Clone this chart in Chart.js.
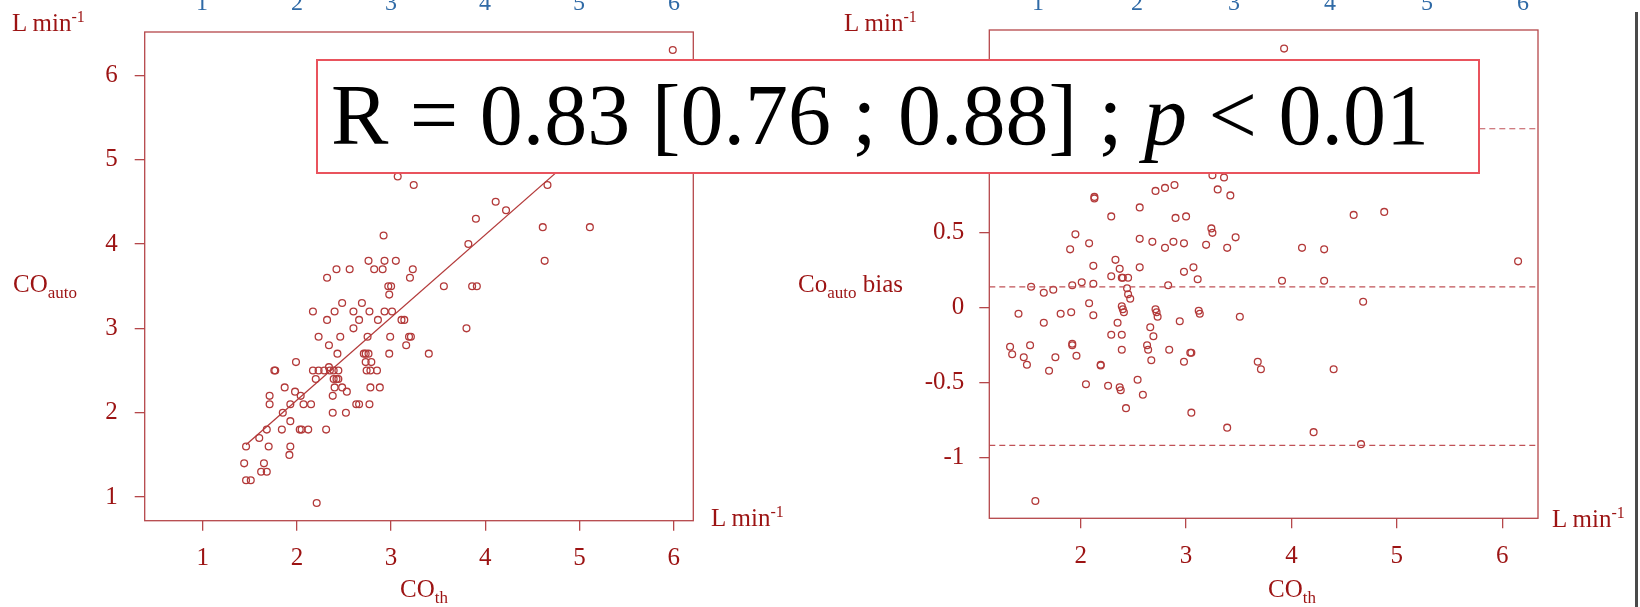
<!DOCTYPE html>
<html>
<head>
<meta charset="utf-8">
<script src="https://cdn.jsdelivr.net/npm/chart.js@4.4.1/dist/chart.umd.min.js"></script>
<style>
  body { margin: 0; background: #fff; width: 1640px; height: 607px; overflow: hidden; position: relative;
         font-family: 'Liberation Serif', 'DejaVu Serif', serif; }
  canvas { position: absolute; top: 0; }
  .lbl { position: absolute; color: #9c1313; font-size: 25px; line-height: 1; white-space: nowrap; }
  .lbl sub { font-size: 17px; line-height: 0; vertical-align: -6px; }
  .lbl sup { font-size: 16px; line-height: 0; vertical-align: 9px; }
  .blue { position: absolute; color: #2f6aa6; font-size: 24px; line-height: 1; top: -10px; }
  #rbox { position: absolute; left: 316px; top: 59px; width: 1164px; height: 115px; box-sizing: border-box;
          border: 2.5px solid #e9535d; background: #fff; }
  #rbox span { position: absolute; left: 13px; top: 11px; font-size: 86px; line-height: 1; color: #000; white-space: nowrap; }
  #edge { position: absolute; left: 1635px; top: 12px; width: 3px; height: 595px; background: #4a4a4a; }
</style>
</head>
<body>
<canvas id="corr" width="820" height="607" style="left:0"></canvas>
<canvas id="bland" width="820" height="607" style="left:820px"></canvas>

<div class="lbl" style="left:12px; top:10px">L min<sup>-1</sup></div>
<div class="lbl" style="left:13px; top:271px">CO<sub>auto</sub></div>
<div class="lbl" style="left:711px; top:505px">L min<sup>-1</sup></div>
<div class="lbl" style="left:400px; top:576px">CO<sub>th</sub></div>

<div class="lbl" style="left:844px; top:10px">L min<sup>-1</sup></div>
<div class="lbl" style="left:798px; top:271px">Co<sub>auto</sub> bias</div>
<div class="lbl" style="left:1552px; top:506px">L min<sup>-1</sup></div>
<div class="lbl" style="left:1268px; top:576px">CO<sub>th</sub></div>

<div id="blues"></div>
<div id="edge"></div>

<div id="rbox"><span>R = 0.83 [0.76 ; 0.88] ; <i>p</i> &lt; 0.01</span></div>

<script>
// ticks
const xTicksL = [1, 2, 3, 4, 5, 6];
const yTicksL = [1, 2, 3, 4, 5, 6];
const xTicksR = [2, 3, 4, 5, 6];
const yTicksR = [-1, -0.5, 0, 0.5, 1, 1.5];
const yTickTextR = ['-1', '-0.5', '0', '0.5', '1', '1.5'];

// stray axis numbers along the top edge (cut off)
const blueTicks = ['1', '2', '3', '4', '5', '6'];
const blueXLeft = [202, 297, 391, 485, 579, 674];
const blueXRight = [1038, 1137, 1234, 1330, 1427, 1523];

// left panel: CO_th vs CO_auto
const cothL = [
  2.76, 2.93, 3.05, 2.42, 2.56, 2.82, 2.91, 3.23, 2.32, 3.20, 2.97, 3.00, 2.98, 2.48, 2.69,
  2.17, 2.40, 2.60, 2.77, 2.93, 3.01, 2.32, 2.66, 2.86, 3.11, 3.14, 2.60, 2.23, 2.46, 2.75,
  2.99, 3.19, 3.21, 2.34, 3.16, 2.43, 2.71, 2.73, 2.76, 2.98, 3.40, 1.99, 2.73, 2.79, 2.34,
  1.76, 1.77, 2.17, 2.23, 2.29, 2.35, 2.39, 2.44, 2.74, 2.78, 2.85, 2.20, 2.39, 2.42, 2.44,
  1.87, 2.40, 2.48, 2.78, 2.88, 1.98, 2.53, 1.71, 2.04, 2.38, 1.71, 1.93, 2.07, 2.15, 2.63,
  2.66, 2.77, 1.85, 2.38, 2.52, 1.93, 1.68, 1.84, 2.03, 2.05, 2.12, 2.31, 1.60, 1.46, 1.70,
  1.93, 1.92, 1.44, 1.65, 1.62, 1.68, 1.46, 1.51, 2.21,
  3.07, 3.24, 2.92, 5.99, 4.66, 4.11, 4.22, 3.90, 4.61, 5.11, 3.82, 4.63, 3.56, 3.86, 3.91, 3.80
];
const coAuto = [
  3.80, 3.80, 3.80, 3.70, 3.70, 3.70, 3.70, 3.70, 3.60, 3.60, 3.50, 3.50, 3.40, 3.30, 3.30,
  3.20, 3.20, 3.20, 3.20, 3.20, 3.20, 3.10, 3.10, 3.10, 3.10, 3.10, 3.00, 2.90, 2.90, 2.90,
  2.90, 2.90, 2.90, 2.80, 2.80, 2.70, 2.70, 2.70, 2.70, 2.70, 2.70, 2.60, 2.60, 2.60, 2.54,
  2.50, 2.50, 2.50, 2.50, 2.50, 2.50, 2.50, 2.50, 2.50, 2.50, 2.50, 2.40, 2.40, 2.40, 2.40,
  2.30, 2.30, 2.30, 2.30, 2.30, 2.25, 2.25, 2.20, 2.20, 2.20, 2.10, 2.10, 2.10, 2.10, 2.10,
  2.10, 2.10, 2.00, 2.00, 2.00, 1.90, 1.80, 1.80, 1.80, 1.80, 1.80, 1.80, 1.70, 1.60, 1.60,
  1.60, 1.50, 1.40, 1.40, 1.30, 1.30, 1.20, 1.20, 0.93,
  4.80, 4.70, 4.10, 6.30, 4.70, 4.50, 4.40, 4.30, 4.20, 4.20, 4.00, 3.80, 3.50, 3.50, 3.50, 3.00
];
// regression segment ends
const fitX = [1.46, 6.0];
const fitY = [1.62, 6.07];

// right panel: CO_th vs bias
const cothR = [
  2.13, 2.13, 2.71, 2.80, 2.89, 2.56, 2.29, 2.90, 3.00, 3.25, 3.36, 3.30, 3.42,
  1.95, 1.90, 2.08, 2.56, 2.68, 2.80, 2.88, 2.98, 3.24, 3.25, 3.19, 3.39, 3.47,
  2.12, 2.33, 2.37, 2.56, 3.07, 2.29, 2.39, 2.40, 2.45, 3.11, 2.98,
  1.53, 1.65, 1.74, 1.92, 2.01, 2.12, 2.44, 2.45, 2.47, 2.83,
  2.08, 2.39, 2.40, 2.41, 1.41, 1.81, 1.91, 2.12, 1.65, 2.35, 2.71, 2.72, 2.73, 3.12, 3.13, 2.94, 2.66, 3.51,
  2.29, 2.39, 2.69, 1.33, 1.35, 1.52, 1.46, 1.49, 1.70, 1.76, 1.92, 1.92, 1.96, 2.19, 2.19, 2.39, 2.63, 2.64,
  2.67, 2.84, 3.04, 3.05, 2.98,
  2.05, 2.26, 2.37, 2.38, 2.54, 2.59, 2.43, 3.05, 3.39, 1.57,
  4.59, 4.88, 4.10, 4.31, 6.15, 3.91, 4.31, 4.68, 3.68, 3.71, 4.40, 4.21, 4.66, 3.93
];
const bias = [
  0.74, 0.73, 0.78, 0.80, 0.82, 0.67, 0.61, 0.60, 0.61, 0.885, 0.87, 0.79, 0.75,
  0.49, 0.39, 0.43, 0.46, 0.44, 0.40, 0.44, 0.43, 0.53, 0.50, 0.42, 0.40, 0.47,
  0.28, 0.32, 0.26, 0.27, 0.27, 0.21, 0.20, 0.20, 0.20, 0.19, 0.24,
  0.14, 0.10, 0.12, 0.15, 0.17, 0.16, 0.13, 0.09, 0.06, 0.15,
  0.03, 0.01, -0.01, -0.03, -0.04, -0.04, -0.03, -0.05, -0.10, -0.10, -0.01, -0.03, -0.06, -0.02, -0.04, -0.09, -0.13, -0.06,
  -0.18, -0.18, -0.19, -0.26, -0.31, -0.25, -0.33, -0.38, -0.42, -0.33, -0.24, -0.25, -0.32, -0.38, -0.385, -0.28, -0.25, -0.28,
  -0.35, -0.28, -0.30, -0.30, -0.36,
  -0.51, -0.52, -0.53, -0.55, -0.48, -0.58, -0.67, -0.70, -0.80, -1.29,
  0.62, 0.64, 0.40, 0.39, 0.31, 0.18, 0.18, 0.04, -0.36, -0.41, -0.41, -0.83, -0.91, 1.73
];
// upper limit, mean bias, lower limit
const limitLevels = [1.195, 0.139, -0.918];

const DARK = '#9c1313';
const AXIS = '#b5474a';
const PT = '#b33a3a';
const FONT = { family: "'Liberation Serif', 'DejaVu Serif', serif", size: 25 };

const framePlugin = {
  id: 'frame',
  afterDatasetsDraw(chart) {
    const a = chart.chartArea, c = chart.ctx;
    c.save();
    c.strokeStyle = AXIS;
    c.lineWidth = 1.3;
    c.strokeRect(a.left, a.top, a.right - a.left, a.bottom - a.top);
    c.restore();
  }
};

function axis(min, max, ticks, labels, size, pad, horizontal) {
  return {
    type: 'linear',
    min, max,
    afterBuildTicks: ax => { ax.ticks = ticks.map(v => ({ value: v })); },
    afterFit: ax => { if (horizontal) ax.height = size; else ax.width = size; },
    grid: { drawOnChartArea: false, drawTicks: true, tickLength: 10, color: AXIS, lineWidth: 1.3 },
    border: { display: false },
    ticks: {
      font: FONT, color: DARK, padding: pad, autoSkip: false, maxRotation: 0,
      callback: (v) => labels[ticks.indexOf(v)] ?? ''
    }
  };
}

function points(xs, ys) {
  return xs.map((x, i) => ({ x, y: ys[i] }));
}

const scatterStyle = {
  type: 'scatter',
  pointStyle: 'circle',
  pointRadius: 3.4,
  borderColor: PT,
  borderWidth: 1.3,
  backgroundColor: 'rgba(0,0,0,0)'
};

// left chart
const xL = { min: 0.384, max: 6.208 };
new Chart(document.getElementById('corr'), {
  data: {
    datasets: [
      { ...scatterStyle, data: points(cothL, coAuto) },
      { type: 'line', data: points(fitX, fitY), borderColor: PT, borderWidth: 1.3, pointRadius: 0 }
    ]
  },
  options: {
    responsive: false,
    animation: false,
    layout: { padding: { left: 0, top: 30, right: 126.7, bottom: 0 } },
    plugins: { legend: { display: false }, tooltip: { enabled: false } },
    scales: {
      x: axis(xL.min, xL.max, xTicksL, xTicksL.map(String), 86.3, 13, true),
      y: axis(0.72, 6.513, yTicksL, yTicksL.map(String), 144.7, 17, false)
    }
  },
  plugins: [framePlugin]
});

// right chart
const xR = { min: 1.133, max: 6.339 };
const limitSets = limitLevels.map(lv => ({
  type: 'line',
  data: points([xR.min, xR.max], [lv, lv]),
  borderColor: '#c05257',
  borderWidth: 1.2,
  borderDash: [6, 4],
  pointRadius: 0
}));
new Chart(document.getElementById('bland'), {
  data: {
    datasets: [
      ...limitSets,
      { ...scatterStyle, data: points(cothR, bias) }
    ]
  },
  options: {
    responsive: false,
    animation: false,
    layout: { padding: { left: 0, top: 28, right: 102, bottom: 0 } },
    plugins: { legend: { display: false }, tooltip: { enabled: false } },
    scales: {
      x: axis(xR.min, xR.max, xTicksR, xTicksR.map(String), 88.7, 13, true),
      y: axis(-1.405, 1.854, yTicksR, yTickTextR, 169.3, 15, false)
    }
  },
  plugins: [framePlugin]
});

// cut-off numbers along the top
const blues = document.getElementById('blues');
[blueXLeft, blueXRight].forEach(xs => {
  xs.forEach((x, i) => {
    const d = document.createElement('div');
    d.className = 'blue';
    d.style.left = (x - 6) + 'px';
    d.textContent = blueTicks[i];
    blues.appendChild(d);
  });
});
</script>
</body>
</html>
